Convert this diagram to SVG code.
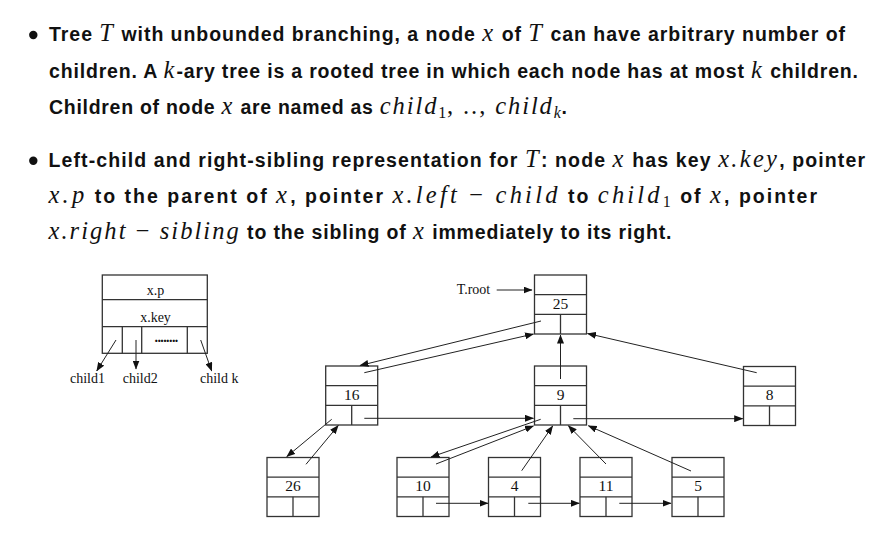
<svg xmlns="http://www.w3.org/2000/svg" xmlns:xlink="http://www.w3.org/1999/xlink" width="876" height="552" viewBox="0 0 876 552">
<style>
.t{font-family:"Liberation Sans",Arial,sans-serif;font-weight:bold;font-size:19.5px;fill:#111}
.m{font-family:"Liberation Serif","Times New Roman",serif;font-style:italic;font-weight:normal;font-size:24.5px;letter-spacing:1.2px}
.u{font-family:"Liberation Serif","Times New Roman",serif;font-style:normal;font-weight:normal;font-size:24.5px;letter-spacing:1.2px}
.s{font-family:"Liberation Serif","Times New Roman",serif;font-style:normal;font-weight:normal;font-size:16px;letter-spacing:0}
.si{font-family:"Liberation Serif","Times New Roman",serif;font-style:italic;font-weight:normal;font-size:16px;letter-spacing:0}
.k{font-family:"Liberation Serif","Times New Roman",serif;font-size:15.5px;fill:#111;text-anchor:middle}
.l{font-family:"Liberation Serif","Times New Roman",serif;font-size:14px;fill:#111}
.bx{fill:#fff;stroke:#333;stroke-width:1.3}
.dv{stroke:#333;stroke-width:1.3}
.c line{stroke:#222;stroke-width:1;marker-end:url(#ah)}
</style>
<defs>
<marker id="ah" markerUnits="userSpaceOnUse" markerWidth="9" markerHeight="7" refX="8.5" refY="3.5" orient="auto">
<path d="M0,0 L9,3.5 L0,7 z" fill="#111"/>
</marker>
<g id="box">
<rect class="bx" x="0" y="0" width="52" height="59"/>
<line class="dv" x1="0" y1="19.7" x2="52" y2="19.7"/>
<line class="dv" x1="0" y1="39.3" x2="52" y2="39.3"/>
<line class="dv" x1="26" y1="39.3" x2="26" y2="59"/>
</g>
</defs>
<rect width="876" height="552" fill="#fff"/>
<g id="text">
<circle cx="33.3" cy="35" r="4.2" fill="#111"/>
<circle cx="33.3" cy="160.7" r="4.2" fill="#111"/>
<text class="t" x="49" y="41" textLength="796" lengthAdjust="spacing">Tree <tspan class="m">T</tspan> with unbounded branching, a node <tspan class="m">x</tspan> of <tspan class="m">T</tspan> can have arbitrary number of</text>
<text class="t" x="49" y="77.5" textLength="809" lengthAdjust="spacing">children. A <tspan class="m">k</tspan>-ary tree is a rooted tree in which each node has at most <tspan class="m">k</tspan> children.</text>
<text class="t" x="49" y="114" textLength="518" lengthAdjust="spacing">Children of node <tspan class="m">x</tspan> are named as <tspan class="m">child</tspan><tspan class="s" dy="4">1</tspan><tspan class="u" dy="-4">, .., </tspan><tspan class="m">child</tspan><tspan class="si" dy="4">k</tspan><tspan dy="-4">.</tspan></text>
<text class="t" x="48.5" y="166.7" textLength="816.5" lengthAdjust="spacing">Left-child and right-sibling representation for <tspan class="m">T</tspan>: node <tspan class="m">x</tspan> has key <tspan class="m">x.key</tspan>, pointer</text>
<text class="t" x="48.5" y="203.3" textLength="768.5" lengthAdjust="spacing"><tspan class="m">x.p</tspan> to the parent of <tspan class="m">x</tspan>, pointer <tspan class="m">x.left</tspan><tspan class="u"> − </tspan><tspan class="m">child</tspan> to <tspan class="m">child</tspan><tspan class="s" dy="4">1</tspan><tspan dy="-4"> of </tspan><tspan class="m">x</tspan>, pointer</text>
<text class="t" x="48.5" y="238.8" textLength="623" lengthAdjust="spacing"><tspan class="m">x.right</tspan><tspan class="u"> − </tspan><tspan class="m">sibling</tspan> to the sibling of <tspan class="m">x</tspan> immediately to its right.</text>
</g>
<g id="legend">
<rect class="bx" x="102.3" y="275" width="105" height="78.3"/>
<line class="dv" x1="102.3" y1="299.7" x2="207.3" y2="299.7"/>
<line class="dv" x1="102.3" y1="326.7" x2="207.3" y2="326.7"/>
<line class="dv" x1="122.3" y1="326.7" x2="122.3" y2="353.3"/>
<line class="dv" x1="141.7" y1="326.7" x2="141.7" y2="353.3"/>
<line class="dv" x1="187.3" y1="326.7" x2="187.3" y2="353.3"/>
<text class="l" x="155.5" y="295" text-anchor="middle">x.p</text>
<text class="l" x="155.5" y="321.5" text-anchor="middle">x.key</text>
<text class="l" x="154.5" y="342" font-weight="bold" font-size="11px" letter-spacing="-0.6">........</text>
<text class="l" x="70" y="383.3">child1</text>
<text class="l" x="122.7" y="383.3">child2</text>
<text class="l" x="200" y="383.3">child k</text>
</g>
<g id="troot"><text class="l" x="456.7" y="294">T.root</text></g>
<g id="n25" transform="translate(534.5,275)"><use xlink:href="#box"/><text class="k" x="26" y="33.5">25</text></g>
<g id="n16" transform="translate(325.7,366)"><use xlink:href="#box"/><text class="k" x="26" y="33.5">16</text></g>
<g id="n9" transform="translate(534.5,366)"><use xlink:href="#box"/><text class="k" x="26" y="33.5">9</text></g>
<g id="n8" transform="translate(743.5,366.5)"><use xlink:href="#box"/><text class="k" x="26" y="33.5">8</text></g>
<g id="n26" transform="translate(267,457.5)"><use xlink:href="#box"/><text class="k" x="26" y="33.5">26</text></g>
<g id="n10" transform="translate(397,457.5)"><use xlink:href="#box"/><text class="k" x="26" y="33.5">10</text></g>
<g id="n4" transform="translate(488.5,457.5)"><use xlink:href="#box"/><text class="k" x="26" y="33.5">4</text></g>
<g id="n11" transform="translate(580,457.5)"><use xlink:href="#box"/><text class="k" x="26" y="33.5">11</text></g>
<g id="n5" transform="translate(672,457.5)"><use xlink:href="#box"/><text class="k" x="26" y="33.5">5</text></g>
<g id="connectors" class="c">
<line x1="496.7" y1="290" x2="532" y2="290"/>
<line x1="541" y1="321" x2="360" y2="365.5"/>
<line x1="364.3" y1="372.7" x2="533.5" y2="334"/>
<line x1="560.5" y1="379" x2="560.5" y2="335"/>
<line x1="756.7" y1="372.7" x2="587.5" y2="333.5"/>
<line x1="364.3" y1="418.3" x2="533.5" y2="418.3"/>
<line x1="573.3" y1="418.7" x2="742.7" y2="418.7"/>
<line x1="331.7" y1="419.3" x2="286.7" y2="456.7"/>
<line x1="306" y1="464.3" x2="338.3" y2="425.5"/>
<line x1="540.7" y1="419.3" x2="431" y2="457"/>
<line x1="436" y1="464" x2="533.5" y2="426"/>
<line x1="521.7" y1="470.7" x2="552.7" y2="426"/>
<line x1="606" y1="464" x2="568.3" y2="425.7"/>
<line x1="691" y1="471" x2="588.3" y2="425.7"/>
<line x1="436" y1="503.3" x2="488" y2="503.3"/>
<line x1="528.3" y1="503.3" x2="579.3" y2="503.3"/>
<line x1="619.3" y1="503.3" x2="671" y2="503.3"/>
<line x1="116" y1="340" x2="96.7" y2="371"/>
<line x1="136" y1="340" x2="136" y2="369"/>
<line x1="200.7" y1="340" x2="211.7" y2="371"/>
</g>
</svg>
